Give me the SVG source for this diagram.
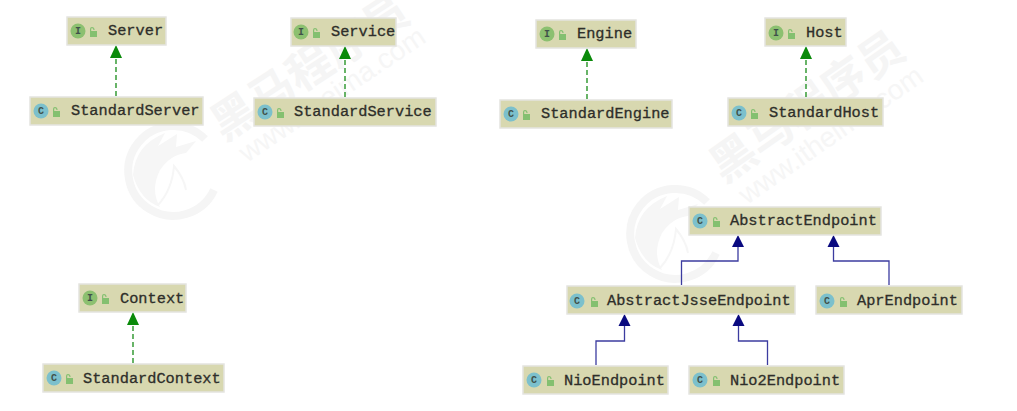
<svg xmlns="http://www.w3.org/2000/svg" width="1017" height="411" viewBox="0 0 1017 411">
<style>
.box{fill:#d8d8b0;stroke:#e4e4e0;stroke-width:1.5}
.t{font-family:"Liberation Mono",monospace;font-size:15.3px;fill:#2e2e2a;stroke:#2e2e2a;stroke-width:.3}
.ic{font-family:"Liberation Mono",monospace;font-size:10px;font-weight:bold;fill:#40504a;text-anchor:middle}
.ci{fill:#7cc0cc}.ii{fill:#8cc070}
.lk{fill:#84c070}
.impl{fill:none;stroke:#289428;stroke-width:1.4;stroke-dasharray:5 3}
.ext{fill:none;stroke:#3c3ca0;stroke-width:1.3}
.gh{fill:#0a8a0a}.bh{fill:#0a0a80}
.wm{font-family:"Noto Sans CJK SC","Liberation Sans",sans-serif;font-weight:bold;fill:#f5f5f5;font-size:45px}
.wu{font-family:"Liberation Sans",sans-serif;fill:#f6f6f6;font-size:28px}
.wc{fill:none;stroke:#f5f5f5;stroke-width:8}
.wf{fill:#f6f6f6}
</style>
<defs>
<g id="lock"><path class="lk" d="M1 4h7v6H1zM1 5V2Q1 0 3 0T5.500 2V3H4.300V2Q4.300 1.200 3 1.200T2.200 2V5z"/></g>
<g id="C"><circle class="ci" r="7.500"/><text class="ic" y="3.300">C</text></g>
<g id="I"><circle class="ii" r="7.500"/><text class="ic" y="3.300">I</text></g>
<g id="mark">
<path class="wc" d="M205 139A45 45 0 1 0 214 190"/>
<path class="wf" d="M133 175Q135 145 165 133L158 146 177 134 176 147 196 141 186 153Q170 155 160 170 150 190 160 207 140 200 133 175Z"/>
<path d="M158 205Q172 190 174 166 184 178 186 190" fill="none" stroke="#f6f6f6" stroke-width="2"/>
</g>
</defs>
<rect width="1017" height="411" fill="#fff"/>
<g id="watermark">
<use href="#mark"/>
<use href="#mark" x="502" y="63"/>
<text class="wm" transform="translate(224 142) rotate(-33)">黑马程序员</text>
<text class="wu" transform="translate(247 163) rotate(-34)">www.itheima.com</text>
<text class="wm" transform="translate(724 184) rotate(-35)">黑马程序员</text>
<text class="wu" transform="translate(747 205) rotate(-35)">www.itheima.com</text>
</g>
<g id="connectors">
<path class="impl" d="M116 96V58"/><path class="gh" d="M116 45l6 13h-12z"/>
<path class="impl" d="M345 97V59"/><path class="gh" d="M345 46l6 13h-12z"/>
<path class="impl" d="M587 99V61"/><path class="gh" d="M587 48l6 13h-12z"/>
<path class="impl" d="M806 97V59"/><path class="gh" d="M806 46l6 13h-12z"/>
<path class="impl" d="M133 363V325"/><path class="gh" d="M133 312l6 13h-12z"/>
<path class="ext" d="M681.500 285V261H738V247"/><path class="bh" d="M738 235l6 12h-12z"/>
<path class="ext" d="M889 285V261H833.500V247"/><path class="bh" d="M833.500 235l6 12h-12z"/>
<path class="ext" d="M596 365V341H624.500V326"/><path class="bh" d="M624.500 314l6 12h-12z"/>
<path class="ext" d="M767.500 365V341H738.500V326"/><path class="bh" d="M738.500 314l6 12h-12z"/>
</g>
<g id="Server"><rect class="box" x="67" y="17" width="99" height="28"/><use href="#I" x="78" y="31"/><use href="#lock" x="89" y="27"/><text class="t" x="108" y="35">Server</text></g>
<g id="StandardServer"><rect class="box" x="30" y="97" width="173" height="28"/><use href="#C" x="41" y="111"/><use href="#lock" x="52" y="107"/><text class="t" x="71" y="115">StandardServer</text></g>
<g id="Service"><rect class="box" x="291" y="18" width="105" height="28"/><use href="#I" x="301" y="32"/><use href="#lock" x="312" y="28"/><text class="t" x="331" y="36">Service</text></g>
<g id="StandardService"><rect class="box" x="254" y="98" width="182" height="28"/><use href="#C" x="265" y="112"/><use href="#lock" x="276" y="108"/><text class="t" x="294" y="116">StandardService</text></g>
<g id="Engine"><rect class="box" x="536" y="20" width="100" height="28"/><use href="#I" x="547" y="34"/><use href="#lock" x="558" y="30"/><text class="t" x="577" y="38">Engine</text></g>
<g id="StandardEngine"><rect class="box" x="500" y="100" width="172" height="28"/><use href="#C" x="511" y="114"/><use href="#lock" x="522" y="110"/><text class="t" x="541" y="118">StandardEngine</text></g>
<g id="Host"><rect class="box" x="765" y="18" width="81" height="28"/><use href="#I" x="776" y="33"/><use href="#lock" x="787" y="29"/><text class="t" x="806" y="37">Host</text></g>
<g id="StandardHost"><rect class="box" x="728" y="98" width="155" height="28"/><use href="#C" x="739" y="113"/><use href="#lock" x="750" y="109"/><text class="t" x="769" y="117">StandardHost</text></g>
<g id="Context"><rect class="box" x="79" y="284" width="107" height="28"/><use href="#I" x="90" y="298"/><use href="#lock" x="101" y="294"/><text class="t" x="120" y="303">Context</text></g>
<g id="StandardContext"><rect class="box" x="43" y="364" width="181" height="28"/><use href="#C" x="54" y="378"/><use href="#lock" x="65" y="374"/><text class="t" x="83" y="383">StandardContext</text></g>
<g id="AbstractEndpoint"><rect class="box" x="689" y="207" width="192" height="28"/><use href="#C" x="700" y="221"/><use href="#lock" x="712" y="217"/><text class="t" x="730" y="225">AbstractEndpoint</text></g>
<g id="AbstractJsseEndpoint"><rect class="box" x="567" y="286" width="228" height="28"/><use href="#C" x="577" y="301"/><use href="#lock" x="590" y="297"/><text class="t" x="607" y="305">AbstractJsseEndpoint</text></g>
<g id="AprEndpoint"><rect class="box" x="816" y="286" width="146" height="28"/><use href="#C" x="827" y="301"/><use href="#lock" x="839" y="297"/><text class="t" x="857" y="305">AprEndpoint</text></g>
<g id="NioEndpoint"><rect class="box" x="523" y="366" width="145" height="28"/><use href="#C" x="534" y="380"/><use href="#lock" x="546" y="376"/><text class="t" x="564" y="385">NioEndpoint</text></g>
<g id="Nio2Endpoint"><rect class="box" x="689" y="366" width="155" height="28"/><use href="#C" x="700" y="380"/><use href="#lock" x="712" y="376"/><text class="t" x="730" y="385">Nio2Endpoint</text></g>
</svg>
